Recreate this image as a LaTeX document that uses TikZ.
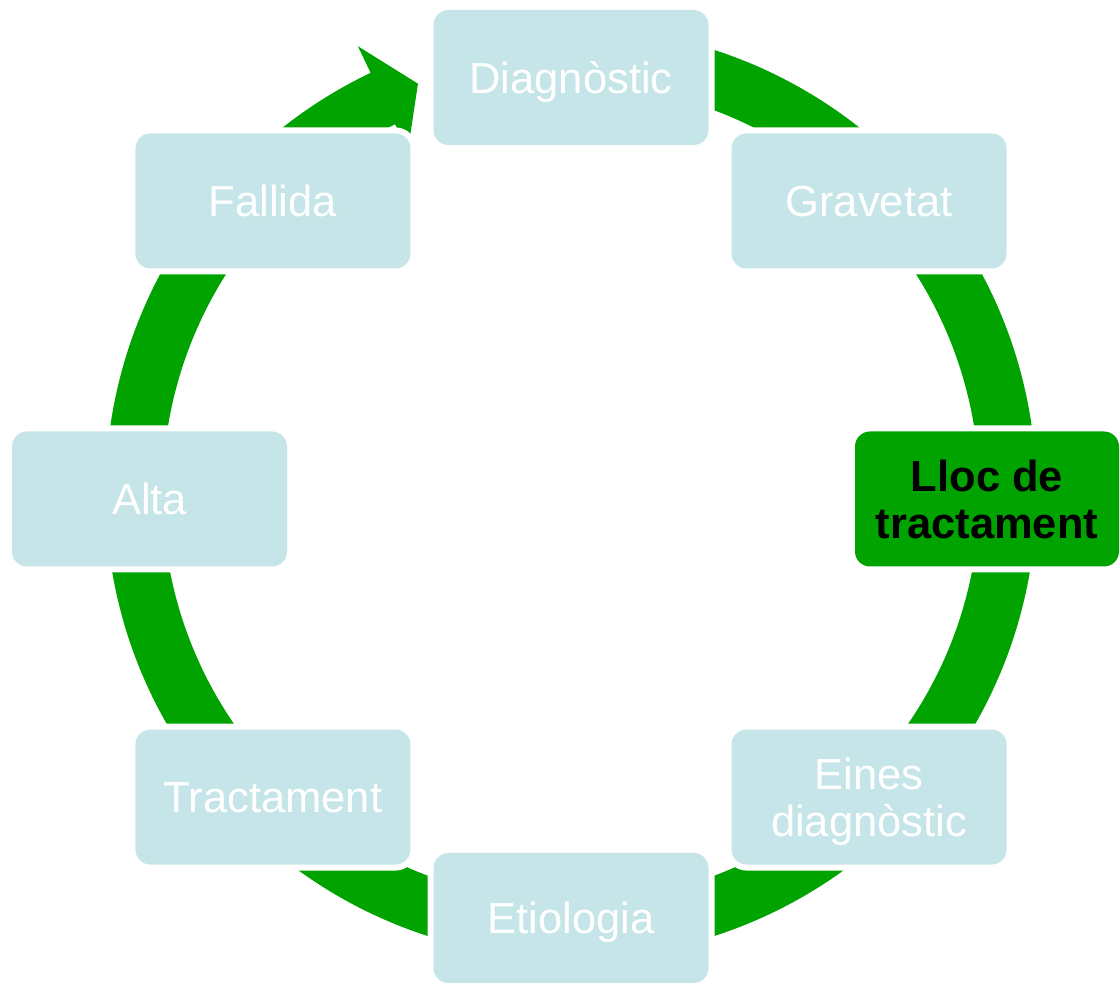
\documentclass[tikz,border=0pt]{standalone}
\usepackage{fontspec}
\setmainfont{Liberation Sans}
\definecolor{ringgreen}{RGB}{0,163,0}
\definecolor{paleblue}{RGB}{197,229,232}
\begin{document}
\begin{tikzpicture}[x=1pt,y=1pt,
  stage/.style={rounded corners=15pt, minimum width=275pt, minimum height=135pt,
    inner sep=0pt, fill=paleblue, text=white, align=center, text depth=0pt,
    font=\fontsize{43.5}{47}\selectfont,
    preaction={draw=white, line width=12pt}},
  current/.style={fill=ringgreen, text=black,
    font=\fontsize{43.5}{47}\selectfont\bfseries}]
\useasboundingbox (0,0) rectangle (1120,984);
\coordinate (ring) at (571,491);
\coordinate (hub) at (571,485);

% circular arrow running clockwise behind the stages
\draw[ringgreen, line width=57pt] (ring) ++(90:437)
  arc[start angle=90, end angle=-245.5, radius=437];
\fill[ringgreen] ([shift={(115.5:495)}]ring) -- ([shift={(110.5:437)}]ring)
  -- ([shift={(115.5:379)}]ring) -- cycle;

% stages of the cycle
\node[stage] (diag) at ([shift={(90:421.5)}]hub) {Diagnòstic};
\node[stage] (grav) at ([shift={(45:421.5)}]hub) {Gravetat};
\node[stage, current, minimum width=264pt] (lloc) at (987,485) {Lloc de\\tractament};
\node[stage] (eines) at ([shift={(-45:421.5)}]hub) {Eines\\diagnòstic};
\node[stage, minimum height=130pt] (etio) at (571,66) {Etiologia};
\node[stage] (tract) at ([shift={(-135:421.5)}]hub) {Tractament};
\node[stage] (alta) at ([shift={(180:421.5)}]hub) {Alta};
\node[stage] (fall) at ([shift={(135:421.5)}]hub) {Fallida};
\end{tikzpicture}
\end{document}
